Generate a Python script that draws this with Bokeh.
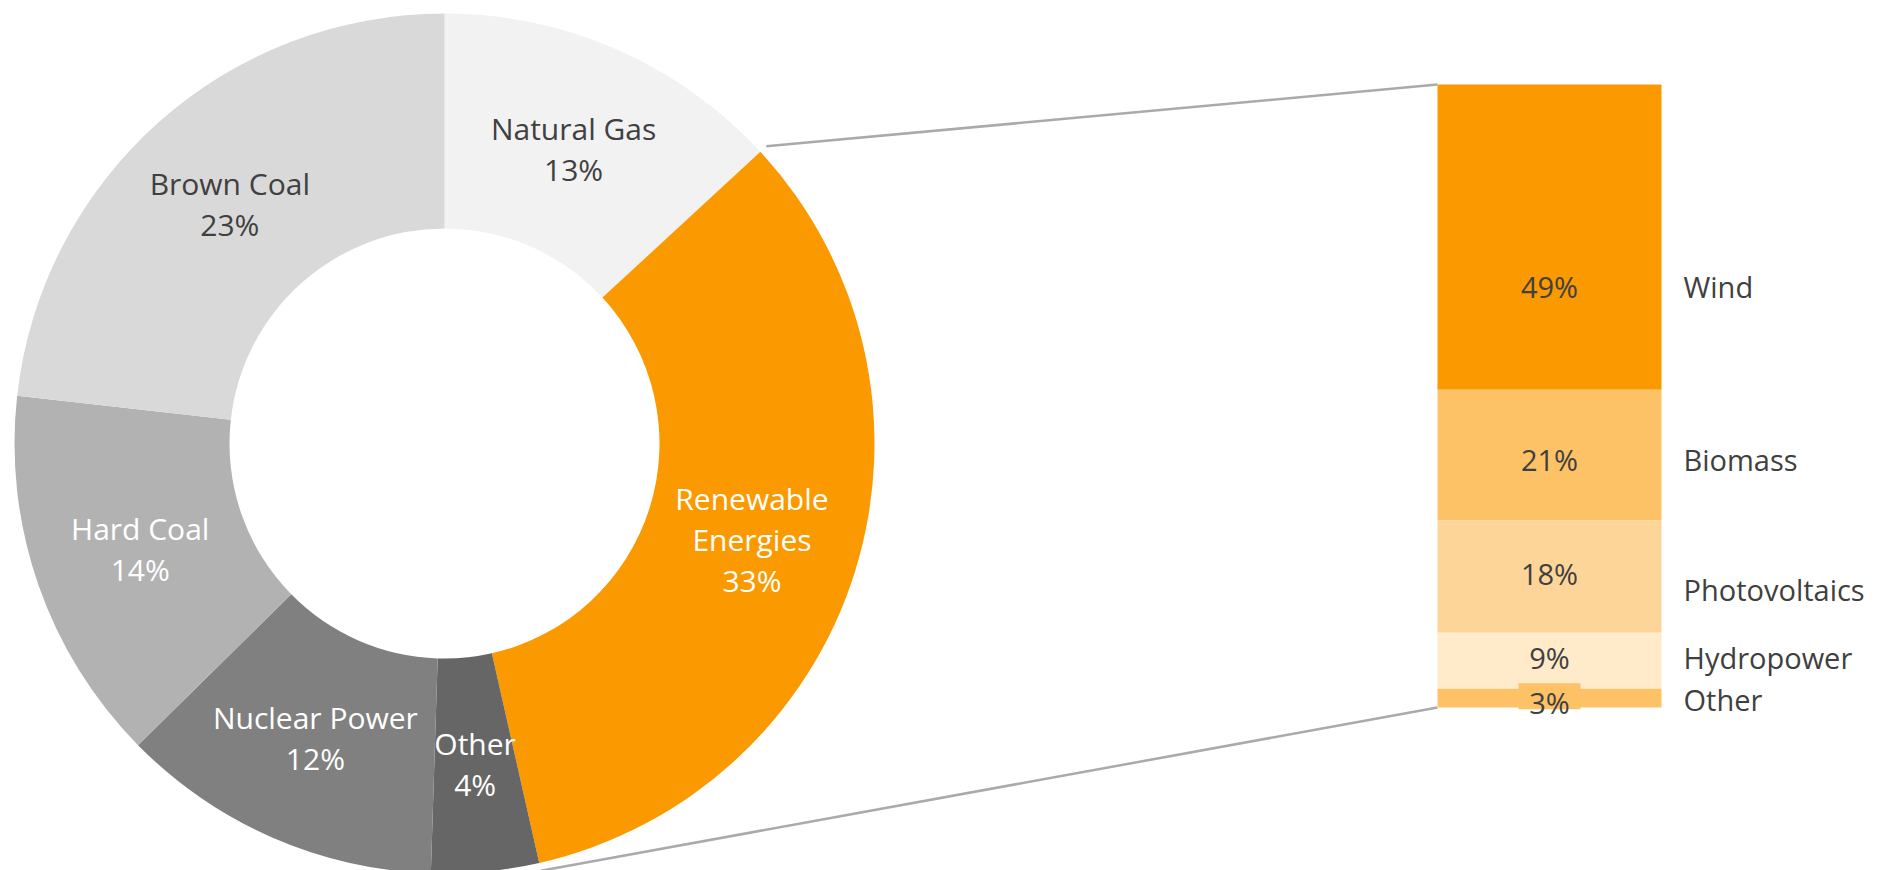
import math
from bokeh.plotting import figure
from bokeh.models import Range1d, ColumnDataSource
from bokeh.core.properties import value
from bokeh.embed import file_html
from bokeh.resources import INLINE

# ---------------- data ----------------
donut_names = ["Natural Gas", "Renewable\nEnergies", "Other", "Nuclear Power", "Hard Coal", "Brown Coal"]
donut_values = [13, 33, 4, 12, 14, 23]
donut_colors = ["#f2f2f2", "#fb9900", "#666666", "#808080", "#b2b2b2", "#d9d9d9"]
donut_text_colors = ["#404040", "#ffffff", "#ffffff", "#ffffff", "#ffffff", "#404040"]

bar_names = ["Wind", "Biomass", "Photovoltaics", "Hydropower", "Other"]
bar_values = [49, 21, 18, 9, 3]
bar_colors = ["#fb9900", "#fdc166", "#fed598", "#ffeaca", "#fdc166"]

# ---------------- layout (pixels, y measured from top) ----------------
W, H = 1889, 870
FONT = "Open Sans"
cx, cy = 444, 443
r_in, r_out = 215, 430
r_lab = 322
line_gap = 41

bar_left, bar_right = 1437, 1661
bar_top, bar_bottom = 84, 707
name_x = 1683
# label nudges (pixels) relative to segment centres
val_nudge = [49, 4, -3, -3, 4]
name_nudge = [49, 4, 13, -3, 1]


def Y(py):
    return H - py


p = figure(width=W, height=H, output_backend="svg", toolbar_location=None,
           x_range=Range1d(0, W), y_range=Range1d(0, H),
           min_border=0, min_border_left=0, min_border_right=0,
           min_border_top=0, min_border_bottom=0)
p.axis.visible = False
p.grid.visible = False
p.outline_line_color = None
p.background_fill_color = "white"
p.border_fill_color = "white"

# ---------------- donut ----------------
total = sum(donut_values)
starts, ends = [], []
tx, ty, tt, tc = [], [], [], []
cum = 0
for i, v in enumerate(donut_values):
    a0 = cum / total
    a1 = (cum + v) / total
    starts.append(math.pi / 2 - a0 * 2 * math.pi)
    ends.append(math.pi / 2 - a1 * 2 * math.pi)
    mid = (a0 + a1) / 2 * 2 * math.pi
    mx = cx + r_lab * math.sin(mid)
    my = Y(cy) + r_lab * math.cos(mid)
    lines = donut_names[i].split("\n") + [f"{v}%"]
    n = len(lines)
    for k, s in enumerate(lines):
        tx.append(mx)
        ty.append(my + ((n - 1) / 2 - k) * line_gap)
        tt.append(s)
        tc.append(donut_text_colors[i])
    cum += v

dsrc = ColumnDataSource(dict(start=starts, end=ends, color=donut_colors))
p.annular_wedge(x=cx, y=Y(cy), inner_radius=r_in, outer_radius=r_out,
                start_angle="start", end_angle="end", direction="clock",
                fill_color="color", line_color=None, source=dsrc)
tsrc = ColumnDataSource(dict(x=tx, y=ty, text=tt, color=tc))
p.text(x="x", y="y", text="text", source=tsrc, text_color="color",
       text_font=value(FONT), text_font_size="30px", text_align="center",
       text_baseline="middle")

# ---------------- connector lines ----------------
b1 = donut_values[0] / total * 2 * math.pi
b2 = (donut_values[0] + donut_values[1]) / total * 2 * math.pi
r_con = r_out + 8
p.segment(x0=[cx + r_con * math.sin(b1), cx + r_con * math.sin(b2)],
          y0=[Y(cy) + r_con * math.cos(b1), Y(cy) + r_con * math.cos(b2)],
          x1=[bar_left, bar_left], y1=[Y(bar_top), Y(bar_bottom)],
          line_color="#aaaaaa", line_width=2.5)

# ---------------- stacked bar ----------------
scale = (bar_bottom - bar_top) / sum(bar_values)
tops, bottoms, vy, ny = [], [], [], []
c = 0
for i, v in enumerate(bar_values):
    t = bar_top + c * scale
    b = bar_top + (c + v) * scale
    tops.append(Y(t))
    bottoms.append(Y(b))
    mid = (t + b) / 2
    vy.append(Y(mid + val_nudge[i]))
    ny.append(Y(mid + name_nudge[i]))
    c += v

bsrc = ColumnDataSource(dict(top=tops, bottom=bottoms, color=bar_colors,
                             vy=vy, ny=ny, names=bar_names,
                             vals=[f"{v}%" for v in bar_values]))
p.quad(left=bar_left, right=bar_right, top="top", bottom="bottom",
       fill_color="color", line_color=None, source=bsrc)

xc = (bar_left + bar_right) / 2
# background box behind the smallest value label (as in the original)
p.quad(left=[xc - 31], right=[xc + 31], top=[vy[4] + 19], bottom=[vy[4] - 7],
       fill_color=bar_colors[4], line_color=None)

p.text(x=xc, y="vy", text="vals", source=bsrc, text_color="#404040",
       text_font=value(FONT), text_font_size="29px", text_align="center",
       text_baseline="middle")

p.text(x=name_x, y="ny", text="names", source=bsrc, text_color="#404040",
       text_font=value(FONT), text_font_size="29px", text_align="left",
       text_baseline="middle")

open("out.html", "w").write(file_html(p, INLINE))
